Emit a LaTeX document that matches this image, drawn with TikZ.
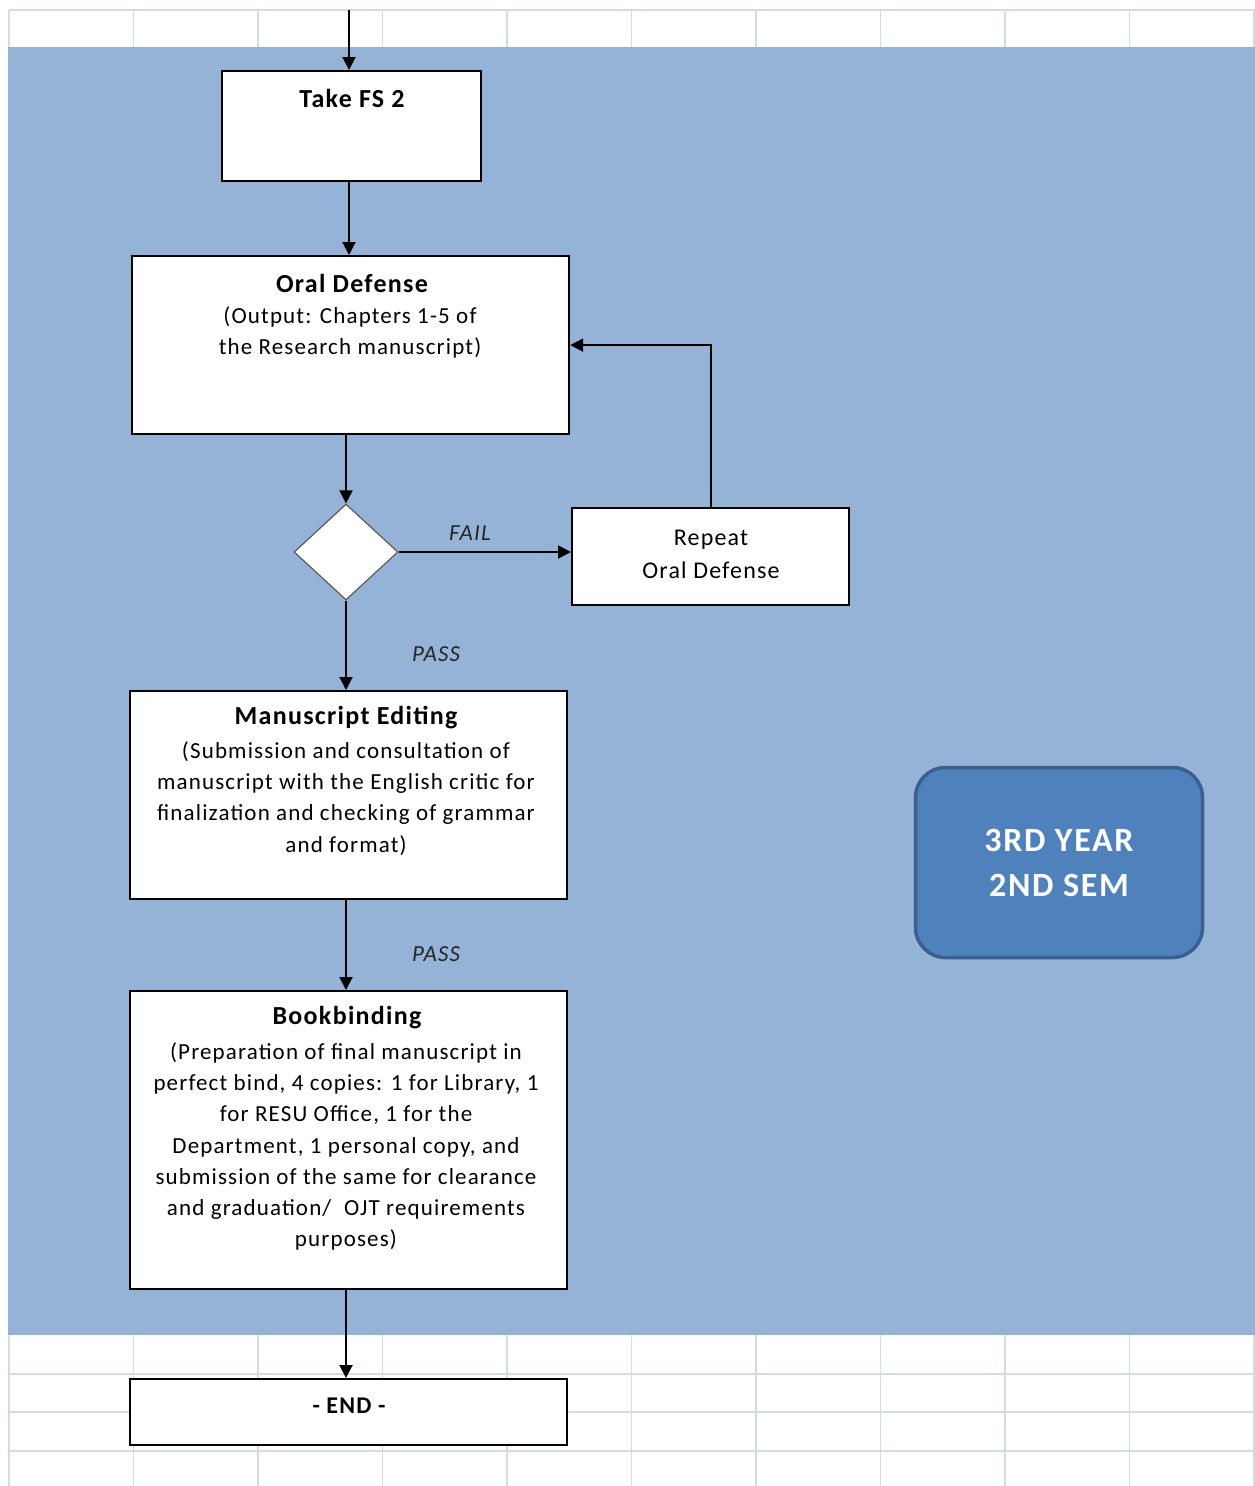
\documentclass[tikz,border=0pt]{standalone}
\usepackage{fontspec}
\setmainfont{Carlito}[LetterSpace=5]
\usetikzlibrary{arrows.meta,shapes.geometric}

\definecolor{bandblue}{HTML}{95B3D7}
\definecolor{gridline}{HTML}{D3DAE8}
\definecolor{semfill}{HTML}{4F81BD}
\definecolor{semedge}{HTML}{3B6090}

\tikzset{
  stepbox/.style={draw=black, line width=2.2pt, fill=white, anchor=north west, inner sep=0pt},
  titletext/.style={font=\bfseries\fontsize{26}{30}\selectfont, inner sep=0pt, align=center},
  bodytext/.style={font=\fontsize{23}{31.3}\selectfont, inner sep=0pt, align=center},
  branchtext/.style={font=\itshape\fontsize{23}{26}\selectfont, inner sep=0pt, text=black!85},
  arr/.style={line width=2pt, -{Triangle[length=13pt,width=13pt]}},
  gridrule/.style={draw=gridline, line width=1.6pt},
}

\begin{document}
\begin{tikzpicture}[x=1pt,y=-1pt]
\useasboundingbox (0,0) rectangle (1255,1486);

% spreadsheet cells around the coloured band
\foreach \i in {0,...,10}{
  \draw[gridrule] ({9+124.5*\i},10) -- ({9+124.5*\i},47);
  \draw[gridrule] ({9+124.5*\i},1335) -- ({9+124.5*\i},1486);
}
\foreach \yy in {10,1374,1412,1451}{
  \draw[gridrule] (9,\yy) -- (1255,\yy);
}

% coloured band for the semester
\fill[bandblue] (8,47) rectangle (1255,1335);

% process boxes
\node[stepbox, minimum width=259, minimum height=110] (fs2) at (221,70) {};
\node[titletext] (fs2t) at (352,98) {Take FS 2};

\node[stepbox, minimum width=437, minimum height=178] (oral) at (131,255) {};
\node[titletext] (oralt) at (352,283) {Oral Defense};
\node[bodytext] (oralb) at (350,332.5) {(Output: Chapters 1-5 of\\the Research manuscript)};

\node[diamond, draw=black!65, line width=1.2pt, fill=white, inner sep=0pt,
      minimum width=104, minimum height=96, aspect=1.08] (dec) at (346,552) {};

\node[stepbox, minimum width=277, minimum height=97] (rep) at (571,507) {};
\node[bodytext, font=\fontsize{24}{33}\selectfont] (rept) at (711,554.5) {Repeat\\Oral Defense};

\node[stepbox, minimum width=437, minimum height=208] (edit) at (129,690) {};
\node[titletext] (editt) at (346,718) {Manuscript Editing};
\node[bodytext] (editb) at (346,798.5) {(Submission and consultation of\\manuscript with the English critic for\\finalization and checking of grammar\\and format)};

\node[stepbox, minimum width=437, minimum height=298] (bind) at (129,990) {};
\node[titletext] (bindt) at (347,1018) {Bookbinding};
\node[bodytext] (bindb) at (346,1146.5) {(Preparation of final manuscript in\\perfect bind, 4 copies: 1 for Library, 1\\for RESU Office, 1 for the\\Department, 1 personal copy, and\\submission of the same for clearance\\and graduation/\ \ OJT requirements\\purposes)};

\node[stepbox, minimum width=437, minimum height=66] (fin) at (129,1378) {};
\node[titletext, font=\bfseries\fontsize{24}{28}\selectfont] (fint) at (349,1406) {- END -};

% semester tag
\node[rounded corners=30pt, draw=semedge, line width=3.5pt, fill=semfill,
      minimum width=287, minimum height=190, text=white, align=center,
      font=\bfseries\fontsize{34}{45}\selectfont] (sem) at (1059,862.5) {3RD YEAR\\2ND SEM};

% connectors
\coordinate (entry) at (349,10);
\draw[arr] (entry) -- (entry |- fs2.north);
\draw[arr] (fs2.south -| entry) -- (entry |- oral.north);
\draw[arr] (dec.north |- oral.south) -- (dec.north);
\draw[arr] (dec.east) -- (rep.west |- dec.east);
\node[branchtext] (fail) at (470,533) {FAIL};
\draw[arr] (rep.north) |- (oral.east);
\draw[arr] (dec.south) -- (dec.south |- edit.north);
\node[branchtext] (pass1) at (436,654) {PASS};
\draw[arr] (edit.south -| dec.south) -- (dec.south |- bind.north);
\node[branchtext] (pass2) at (436,954) {PASS};
\draw[arr] (bind.south -| dec.south) -- (dec.south |- fin.north);
\end{tikzpicture}
\end{document}
